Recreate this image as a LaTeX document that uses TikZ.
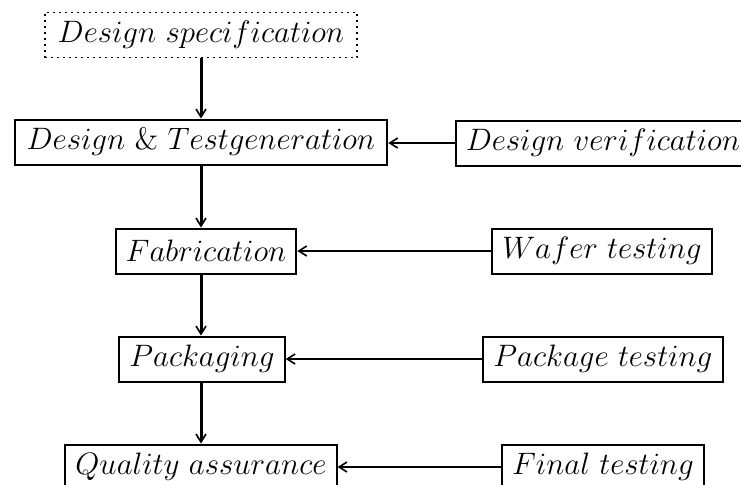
\RequirePackage{fix-cm}
\documentclass[tikz,border=0pt]{standalone}
\usepackage{amsmath}
\usepackage{tikz}
\usetikzlibrary{arrows.meta}

\begin{document}
\begin{tikzpicture}[x=0.5pt,y=-0.5pt,
    stage/.style={draw,line width=1pt,inner xsep=5pt,inner ysep=0pt,minimum height=22.5pt,font=\fontsize{15.5}{18}\selectfont},
    spec/.style={stage,dotted,line width=0.8pt},
    vflow/.style={line width=1.5pt,-{Straight Barb[length=4pt,width=5pt,line width=0.8pt]}},
    hflow/.style={line width=1pt,-{Straight Barb[length=4pt,width=5pt,line width=0.8pt]}}]
  \useasboundingbox (0,0) rectangle (741,484);
  % main flow, left column
  \node[spec,inner xsep=6.5pt] (ds) at (201,35) {$Design\ specification$};
  \node[stage,inner xsep=6pt] (dt) at (201,142) {$Design\ \&\ Testgeneration$};
  \node[stage] (fab) at (206,251) {$Fabrication$};
  \node[stage] (pkg) at (202,359) {$Packaging$};
  \node[stage] (qa)  at (201,467) {$Quality\ assurance$};
  % checks, right column
  \node[stage] (dv)  at (603,143) {$Design\ verification$};
  \node[stage] (wt)  at (602,251) {$Wafer\ testing$};
  \node[stage] (pt)  at (603,359) {$Package\ testing$};
  \node[stage] (ft)  at (603,467) {$Final\ testing$};
  \draw[vflow] (ds.south) -- (dt.north);
  \draw[vflow] (dt.south) -- (dt.south |- fab.north);
  \draw[vflow] (dt.south |- fab.south) -- (dt.south |- pkg.north);
  \draw[vflow] (dt.south |- pkg.south) -- (dt.south |- qa.north);
  \foreach \src/\dst in {dv/dt,wt/fab,pt/pkg,ft/qa}
    \draw[hflow] (\src.west) -- (\src.west -| \dst.east);
\end{tikzpicture}
\end{document}
